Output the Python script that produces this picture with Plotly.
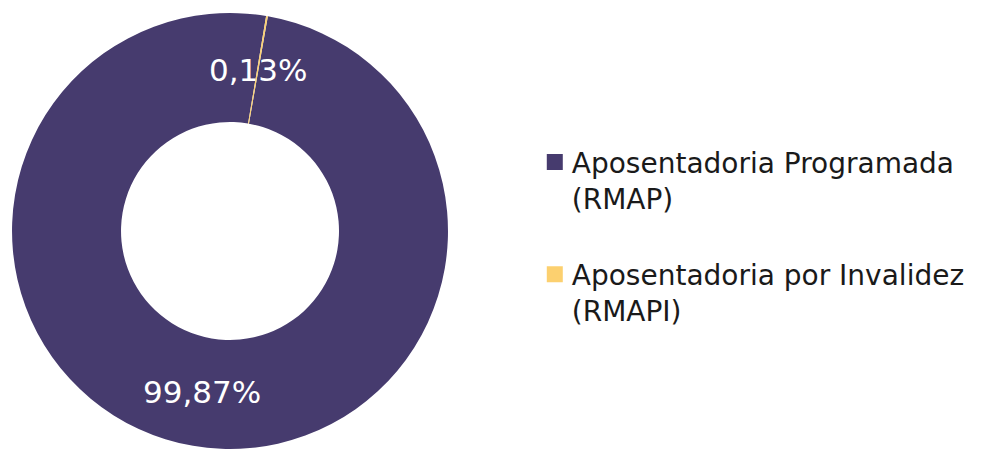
import math
import plotly.graph_objects as go

labels = ["Aposentadoria Programada<br>(RMAP)<br> ", "Aposentadoria por Invalidez<br>(RMAPI)"]
values = [99.87, 0.13]
colors = ["#463b6e", "#fcd06f"]

W, H = 994, 450
dom_x = [0.0121, 0.4507]
dom_y = [0.0022, 0.9711]
hole = 0.5
rotation = 10
FONT = "DejaVu Sans"

texts = [f"{v:.2f}".replace(".", ",") + "%" for v in values]

fig = go.Figure()
fig.add_trace(go.Pie(
    labels=labels,
    values=values,
    textinfo="none",
    marker=dict(colors=colors, line=dict(width=0)),
    hole=hole,
    sort=False,
    direction="clockwise",
    rotation=rotation,
    domain=dict(x=dom_x, y=dom_y),
    hoverinfo="label+percent",
))

# value labels, placed at each slice's mid-angle in the middle of the ring
total = sum(values)
cx = (dom_x[0] + dom_x[1]) / 2 * W
cy = (dom_y[0] + dom_y[1]) / 2 * H
R = min((dom_x[1] - dom_x[0]) * W, (dom_y[1] - dom_y[0]) * H) / 2
rmid = R * (1 + hole) / 2
cum = 0.0
for v, t in zip(values, texts):
    ang = math.radians(rotation + (cum + v / 2) / total * 360)
    cum += v
    px = cx + rmid * math.sin(ang)
    py = cy + rmid * math.cos(ang)
    fig.add_annotation(
        x=px / W, y=py / H, xref="paper", yref="paper",
        xanchor="center", yanchor="middle",
        text=t, showarrow=False,
        font=dict(family=FONT, size=31, color="white"),
    )

fig.update_layout(
    width=W, height=H,
    margin=dict(l=0, r=0, t=0, b=0),
    paper_bgcolor="white",
    plot_bgcolor="white",
    showlegend=True,
    legend=dict(
        x=0.535, y=0.695, xanchor="left", yanchor="top",
        font=dict(family=FONT, size=28, color="#1a1a1a"),
        valign="top",
        traceorder="normal",
    ),
)

post = """
document.body.style.margin='0px';
document.querySelectorAll('path.legendpie').forEach(function(p){
  p.setAttribute('d','M8,8H-8V-8H8Z');
  p.setAttribute('transform','translate(23,0)');
});
"""
fig.write_html("out.html", post_script=post, config={"displayModeBar": False})
